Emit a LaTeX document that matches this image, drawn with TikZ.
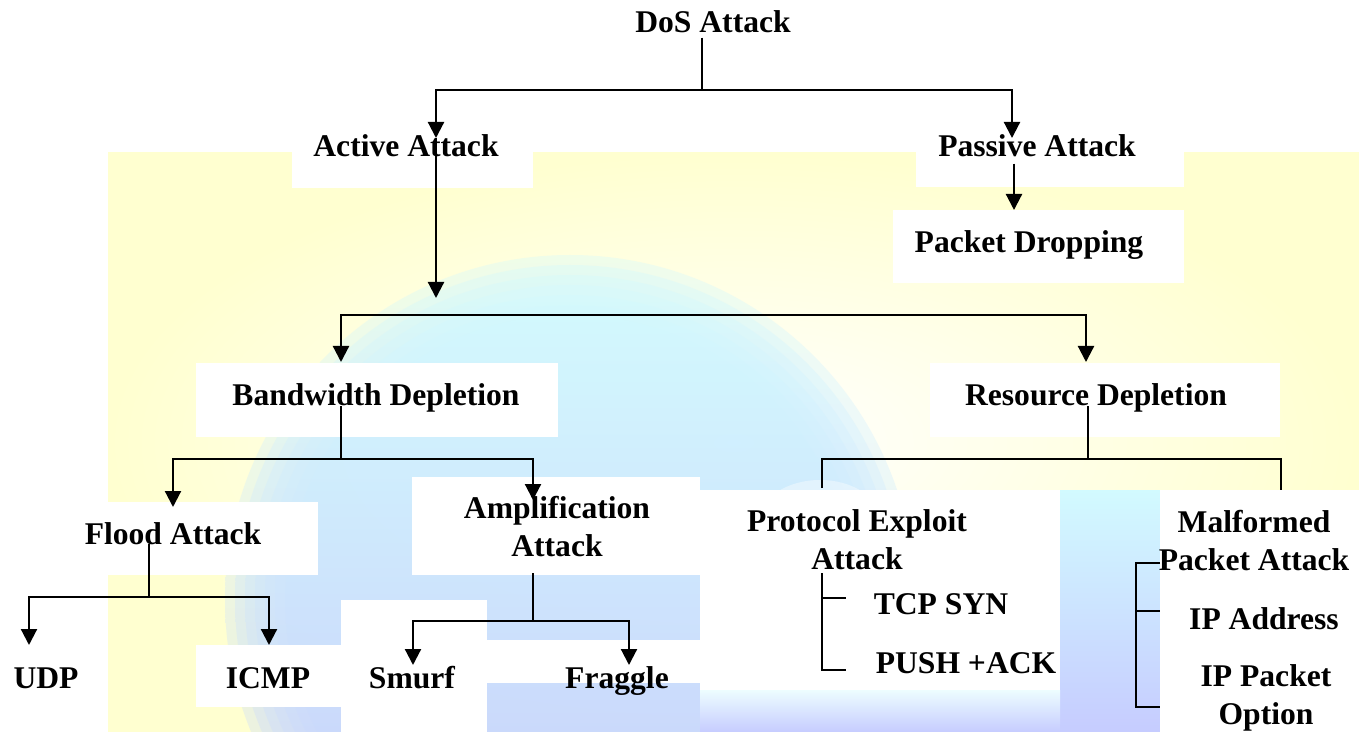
\documentclass[tikz,border=0pt]{standalone}
\usepackage{fontspec}
\setmainfont{Liberation Serif}
\usetikzlibrary{arrows.meta}
\definecolor{bgyellow}{HTML}{FFFFD0}
\definecolor{globecyan}{HTML}{D2FAFF}
\definecolor{globeblue}{HTML}{C6CCFF}
\begin{document}
\begin{tikzpicture}[x=0.5pt,y=-0.5pt,
  lbl/.style={font=\fontsize{15.8}{18.8}\selectfont\bfseries, inner sep=0pt, anchor=base, align=center},
  thinline/.style={line width=0.6pt},
  link/.style={line width=1.1pt},
  tip/.tip={Triangle[length=8pt,width=8pt]},
  arr/.style={link,-tip},
  arrtwo/.style={link,tip-tip},
  wbox/.style={fill=white}]
\useasboundingbox (0,0) rectangle (1359,732);

% ---- background: pale yellow panel with a faded globe ----
\fill[white] (0,0) rectangle (1359,732);
\shade[inner color=white, outer color=bgyellow] (108,153) rectangle (1359,732);
\begin{scope}
  \clip (108,153) rectangle (1359,732);
  % soft-edged globe built from stacked translucent discs
  \foreach \r in {345,335,...,285}
    \shade[top color=globecyan, bottom color=globeblue, opacity=0.35] (570,600) circle[radius=\r];
  \fill[white,opacity=0.4] (820,520) ellipse[x radius=60, y radius=40];
  \shade[top color=globecyan, bottom color=globeblue] (1060,490) rectangle (1160,732);
  \shade[top color=globecyan!40!white, bottom color=globeblue] (700,690) rectangle (1060,732);
  \fill[bgyellow] (108,575) rectangle (223,732);
\end{scope}

% ---- white panels behind the labels ----
\fill[wbox] (292,120) rectangle (533,188);
\fill[wbox] (916,120) rectangle (1184,187);
\fill[wbox] (893,210) rectangle (1184,283);
\fill[wbox] (196,363) rectangle (558,437);
\fill[wbox] (930,363) rectangle (1280,437);
\fill[wbox] (60,502) rectangle (318,575);
\fill[wbox] (412,477) rectangle (700,575);
\fill[wbox] (196,645) rectangle (483,707);
\fill[wbox] (341,600) rectangle (487,732);
\fill[wbox] (487,640) rectangle (700,683);
\fill[wbox] (700,490) rectangle (1060,690);
\fill[wbox] (1160,490) rectangle (1359,732);

% ---- labels (multi-line labels sit on their last baseline) ----
\node[lbl] (dos)     at (713,33)   {DoS Attack};
\node[lbl] (active)  at (406,157)  {Active Attack};
\node[lbl] (passive) at (1037,157) {Passive Attack};
\node[lbl] (pdrop)   at (1029,253) {Packet Dropping};
\node[lbl] (bw)      at (376,406)  {Bandwidth Depletion};
\node[lbl] (rd)      at (1096,406) {Resource Depletion};
\node[lbl] (flood)   at (173,544)  {Flood Attack};
\node[lbl] (amp)     at (557,556)  {Amplification\\Attack};
\node[lbl] (udp)     at (46,688)   {UDP};
\node[lbl] (icmp)    at (268,688)  {ICMP};
\node[lbl] (smurf)   at (412,688)  {Smurf};
\node[lbl] (fraggle) at (617,688)  {Fraggle};
\node[lbl] (proto)   at (857,569)  {Protocol Exploit\\Attack};
\node[lbl] (malf)    at (1254,570) {Malformed\\Packet Attack};
\node[lbl] (tcp)     at (941,614)  {TCP SYN};
\node[lbl] (push)    at (966,673)  {PUSH +ACK};
\node[lbl] (ipaddr)  at (1264,629) {IP Address};
\node[lbl] (ippkt)   at (1266,724) {IP Packet\\Option};

% ---- junctions and connector ends ----
\coordinate (j0) at (702,90);
\coordinate (activeIn) at (436,138);
\coordinate (passiveIn) at (1012,138);
\coordinate (activeOut) at (436,298);
\coordinate (pdIn) at (1014,210);
\coordinate (j1) at (700,315);
\coordinate (bwIn) at (341,362);
\coordinate (rdIn) at (1086,362);
\coordinate (j2) at (341,459);
\coordinate (floodIn) at (173,507);
\coordinate (ampIn) at (533,500);
\coordinate (j3) at (149,597);
\coordinate (udpIn) at (29,645);
\coordinate (icmpIn) at (269,645);
\coordinate (ampOut) at (533,573);
\coordinate (j4) at (533,621);
\coordinate (smurfIn) at (413,665);
\coordinate (fragIn) at (629,665);
\coordinate (j5) at (1088,459);
\coordinate (protoTop) at (822,488);
\coordinate (malfTop) at (1281,490);
\coordinate (pb0) at (822,573);
\coordinate (pbT) at (846,598);
\coordinate (pbP) at (846,670);
\coordinate (mbx) at (1136,640);
\coordinate (mb0) at (1160,563);
\coordinate (mbA) at (1160,611);
\coordinate (mbO) at (1160,707);

% ---- connectors ----
\draw[thinline] ([yshift=-2pt]dos.south -| j0) -- (j0);
\draw[arr] (j0) -| (activeIn);
\draw[arr] (j0) -| (passiveIn);
\draw[arr] (activeIn) -- (activeOut);
\draw[arr] ([yshift=-3pt]passive.south -| pdIn) -- (pdIn);
\draw[arrtwo] (bwIn) |- (j1) -| (rdIn);

\draw[thinline] (bw.base -| j2) -- (j2);
\draw[arrtwo] (floodIn) |- (j2) -| (ampIn);

\draw[thinline] (flood.base -| j3) -- (j3);
\draw[arrtwo] (udpIn) |- (j3) -| (icmpIn);

\draw[thinline] (ampOut) -- (j4);
\draw[arrtwo] (smurfIn) |- (j4) -| (fragIn);

\draw[thinline] (rd.base -| j5) -- (j5);
\draw[link] (protoTop) |- (j5) -| (malfTop);

\draw[link] (pb0) |- (pbP);
\draw[link] (pb0 |- pbT) -- (pbT);

\draw[link] (mb0) -| (mbx) |- (mbO);
\draw[link] (mbA -| mbx) -- (mbA);
\end{tikzpicture}
\end{document}
